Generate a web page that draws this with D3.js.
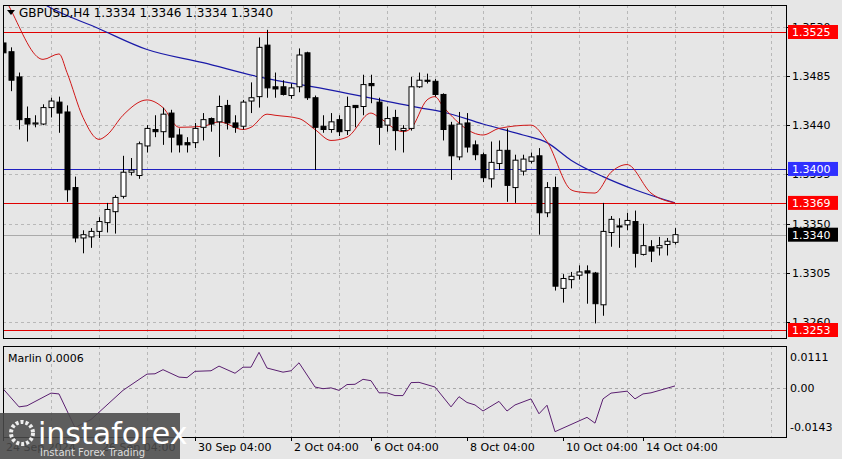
<!DOCTYPE html>
<html><head><meta charset="utf-8">
<script src="https://cdn.jsdelivr.net/npm/d3@7"></script>
<style>body{margin:0;background:#e6e6e6;overflow:hidden}svg{display:block}text{font-family:"DejaVu Sans",sans-serif}</style>
</head><body><svg id="c" width="842" height="459"></svg>
<script>
const opens  =[1.3515,1.3507,1.3484,1.3446,1.3441,1.3441,1.3456,1.3461,1.3452,1.3383,1.3337,1.3338,1.3343,1.3351,1.3361,1.3375,1.3397,1.3394,1.3421,1.3436,1.3434,1.3451,1.3431,1.3424,1.3424,1.3438,1.3446,1.3443,1.3458,1.3442,1.3439,1.3462,1.3466,1.3513,1.3475,1.3475,1.3467,1.3475,1.3506,1.3465,1.3439,1.3436,1.3445,1.3435,1.3458,1.3457,1.3478,1.3461,1.3440,1.3447,1.3435,1.3437,1.3475,1.3481,1.3480,1.3468,1.3440,1.3411,1.3442,1.3422,1.3413,1.3391,1.3405,1.3417,1.3383,1.3398,1.3407,1.3412,1.3360,1.3383,1.3291,1.3299,1.3303,1.3307,1.3305,1.3276,1.3342,1.3348,1.3349,1.3352,1.3322,1.3329,1.3328,1.3331,1.3333];
const highs  =[1.3517,1.3511,1.3488,1.3457,1.3449,1.3459,1.3465,1.3466,1.3458,1.3393,1.3344,1.3346,1.3356,1.3369,1.3376,1.3412,1.3410,1.3425,1.3440,1.3449,1.3456,1.3454,1.3437,1.3429,1.3442,1.3451,1.3447,1.3467,1.3463,1.3449,1.3463,1.3479,1.3520,1.3527,1.3488,1.3481,1.3478,1.3510,1.3507,1.3467,1.3449,1.3451,1.3449,1.3466,1.3458,1.3486,1.3486,1.3465,1.3457,1.3454,1.3440,1.3484,1.3488,1.3487,1.3482,1.3469,1.3443,1.3452,1.3451,1.3426,1.3415,1.3425,1.3426,1.3437,1.3413,1.3413,1.3415,1.3419,1.3388,1.3393,1.3304,1.3306,1.3312,1.3312,1.3306,1.3369,1.3357,1.3355,1.3360,1.3362,1.3350,1.3335,1.3338,1.3337,1.3346];
const lows   =[1.3503,1.3471,1.3436,1.3425,1.3438,1.3440,1.3447,1.3433,1.3370,1.3333,1.3323,1.3328,1.3337,1.3342,1.3341,1.3373,1.3394,1.3391,1.3415,1.3429,1.3422,1.3415,1.3415,1.3415,1.3419,1.3426,1.3434,1.3411,1.3436,1.3433,1.3436,1.3451,1.3456,1.3465,1.3465,1.3467,1.3464,1.3470,1.3463,1.3399,1.3433,1.3433,1.3430,1.3431,1.3438,1.3449,1.3460,1.3422,1.3434,1.3417,1.3415,1.3435,1.3474,1.3478,1.3466,1.3426,1.3390,1.3408,1.3415,1.3408,1.3388,1.3383,1.3399,1.3370,1.3369,1.3394,1.3405,1.3340,1.3356,1.3289,1.3278,1.3291,1.3299,1.3277,1.3259,1.3266,1.3329,1.3328,1.3344,1.3310,1.3321,1.3315,1.3321,1.3321,1.3331];
const closes =[1.3506,1.3481,1.3445,1.3441,1.3442,1.3456,1.3462,1.3451,1.3381,1.3337,1.3340,1.3343,1.3352,1.3363,1.3374,1.3397,1.3399,1.3423,1.3437,1.3434,1.3450,1.3429,1.3422,1.3422,1.3437,1.3445,1.3441,1.3457,1.3442,1.3438,1.3461,1.3465,1.3511,1.3474,1.3473,1.3468,1.3474,1.3504,1.3465,1.3438,1.3436,1.3443,1.3434,1.3457,1.3456,1.3477,1.3476,1.3438,1.3446,1.3435,1.3437,1.3475,1.3481,1.3480,1.3468,1.3436,1.3412,1.3441,1.3420,1.3413,1.3392,1.3406,1.3417,1.3385,1.3408,1.3409,1.3411,1.3360,1.3383,1.3293,1.3300,1.3302,1.3306,1.3305,1.3277,1.3343,1.3354,1.3347,1.3353,1.3323,1.3330,1.3325,1.3330,1.3334,1.3340];
const blueIdx=[-4,0,5,12,18,25,32,41,52,55,60,65,68,71,75,79,84];
const blueVal=[1.3600,1.3578,1.3551,1.3528,1.3509,1.3497,1.3484,1.3472,1.3456,1.3452,1.3441,1.3431,1.3424,1.3408,1.3393,1.3381,1.3369];
const redIdx=[0,1,5,7,8,10,12,13,15,18,20,22,25,27,30,31,33,34,37,39,41,43,46,47,50,51,53,54,55,60,62,66,68,71,72,74,76,78,81,84];
const redVal=[1.3560,1.3545,1.3500,1.3505,1.3488,1.3447,1.3427,1.3431,1.3449,1.3463,1.3456,1.3438,1.3439,1.3443,1.3436,1.3438,1.3450,1.3449,1.3446,1.3436,1.3426,1.3429,1.3451,1.3447,1.3434,1.3437,1.3463,1.3466,1.3457,1.3431,1.3437,1.3440,1.3425,1.3381,1.3379,1.3378,1.3397,1.3404,1.3378,1.3369];
const marlinIdx=[0,2,3,6,7,9,11,15,18,19,20,22,23,24,26,27,29,30,31,32,33,35,36,37,39,40,41,42,43,44,45,46,47,48,49,50,51,52,54,56,57,58,59,60,62,63,64,66,67,68,69,73,74,75,76,78,79,80,81,84];
const marlinVal=[-0.0004,-0.0070,-0.0066,-0.0020,-0.0023,-0.0145,-0.0116,-0.0010,0.0049,0.0050,0.0065,0.0038,0.0036,0.0059,0.0061,0.0078,0.0052,0.0074,0.0074,0.0128,0.0071,0.0056,0.0061,0.0090,0.0002,-0.0004,-0.0001,-0.0010,0.0011,0.0012,0.0030,0.0025,-0.0019,-0.0019,-0.0029,-0.0029,0.0018,0.0019,0.0002,-0.0070,-0.0033,-0.0054,-0.0063,-0.0085,-0.0050,-0.0085,-0.0063,-0.0041,-0.0095,-0.0064,-0.0160,-0.0108,-0.0129,-0.0041,-0.0020,-0.0013,-0.0041,-0.0023,-0.0019,0.0006];
const priceTicks=[1.3530,1.3485,1.3440,1.3395,1.3350,1.3305,1.3260];
const levels=[{v:1.3525,c:"#e00000",bg:"#ff0000"},{v:1.3400,c:"#2020c0",bg:"#3030ff"},{v:1.3369,c:"#e00000",bg:"#ff0000"},{v:1.3253,c:"#e00000",bg:"#ff0000"}];
const marlinTicks=[0.0111,0.0,-0.0143];
const dateIdx=[0,12,24,36,46,58,70,80];
const dateLabels=["24 Sep 2024","26 Sep 04:00","30 Sep 04:00","2 Oct 04:00","6 Oct 04:00","8 Oct 04:00","10 Oct 04:00","14 Oct 04:00"];

const svg=d3.select("#c");
const L=3,R=786,T=5,B=338,IT=346,IB=437;
const x=d3.scaleLinear().domain([0,1]).range([3,11]);
const y=d3.scaleLinear().domain([1.3525,1.3253]).range([32,330]);
const yi=d3.scaleLinear().domain([0.0111,-0.0143]).range([357,427]);
svg.append("defs").html(`<clipPath id="cm"><rect x="${L}" y="${T}" width="${R-L}" height="${B-T}"/></clipPath><clipPath id="ci"><rect x="${L}" y="${IT}" width="${R-L}" height="${IB-IT}"/></clipPath>`);
const g=svg.append("g").attr("clip-path","url(#cm)");
const gi=svg.append("g").attr("clip-path","url(#ci)");
const vg=d3.range(6,100,6);
[g,gi].forEach((gg,k)=>{
  gg.selectAll(null).data(vg).join("line").attr("x1",d=>x(d)+0.5).attr("x2",d=>x(d)+0.5)
   .attr("y1",k?IT:T).attr("y2",k?IB:B).attr("stroke","#b8b8b8").attr("stroke-dasharray","3,3");
});
g.selectAll(null).data(priceTicks).join("line").attr("x1",L).attr("x2",R).attr("y1",d=>Math.round(y(d))+0.5).attr("y2",d=>Math.round(y(d))+0.5).attr("stroke","#b8b8b8").attr("stroke-dasharray","3,3");
gi.append("line").attr("x1",L).attr("x2",R).attr("y1",Math.round(yi(0))+0.5).attr("y2",Math.round(yi(0))+0.5).attr("stroke","#a8a8a8").attr("stroke-dasharray","3,3");
g.append("line").attr("x1",L).attr("x2",R).attr("y1",Math.round(y(1.3340))+0.5).attr("y2",Math.round(y(1.3340))+0.5).attr("stroke","#aaaaaa");
g.selectAll(null).data(levels).join("line").attr("x1",L).attr("x2",R).attr("y1",d=>Math.round(y(d.v))+0.5).attr("y2",d=>Math.round(y(d.v))+0.5).attr("stroke",d=>d.c);
const cl=d3.line().curve(d3.curveMonotoneX).x(d=>x(d[0])).y(d=>y(d[1]));
g.append("path").attr("d",cl(blueIdx.map((d,i)=>[d,blueVal[i]]))).attr("fill","none").attr("stroke","#1a1aa8").attr("stroke-width",1.2);
g.append("path").attr("d",cl(redIdx.map((d,i)=>[d,redVal[i]]))).attr("fill","none").attr("stroke","#d01818").attr("stroke-width",1);
const idx=d3.range(opens.length);
g.selectAll(null).data(idx).join("line").attr("x1",i=>Math.round(x(i))+0.5).attr("x2",i=>Math.round(x(i))+0.5).attr("y1",i=>y(highs[i])).attr("y2",i=>y(lows[i])).attr("stroke","#000");
g.selectAll(null).data(idx).join("rect").attr("x",i=>Math.round(x(i))-2).attr("width",5)
 .attr("y",i=>y(Math.max(opens[i],closes[i]))).attr("height",i=>Math.max(1,Math.abs(y(opens[i])-y(closes[i]))))
 .attr("fill",i=>closes[i]>=opens[i]?"#fff":"#000").attr("stroke","#000");
gi.append("path").attr("d",d3.line().x(d=>x(d[0])).y(d=>yi(d[1]))(marlinIdx.map((d,i)=>[d,marlinVal[i]]))).attr("fill","none").attr("stroke","#5a1f70").attr("stroke-width",1);
svg.append("rect").attr("x",L+0.5).attr("y",T+0.5).attr("width",R-L).attr("height",B-T).attr("fill","none").attr("stroke","#000");
svg.append("rect").attr("x",L+0.5).attr("y",IT+0.5).attr("width",R-L).attr("height",IB-IT).attr("fill","none").attr("stroke","#000");
svg.selectAll(null).data(priceTicks).join("text").attr("x",792).attr("y",d=>y(d)+4).attr("font-size",11).attr("fill","#000").text(d=>d.toFixed(4));
svg.selectAll(null).data(priceTicks).join("line").attr("x1",R).attr("x2",R+4).attr("y1",d=>Math.round(y(d))+0.5).attr("y2",d=>Math.round(y(d))+0.5).attr("stroke","#000");
const tags=levels.concat([{v:1.3340,bg:"#000"}]);
svg.selectAll(null).data(tags).join("rect").attr("x",788).attr("y",d=>y(d.v)-7).attr("width",50).attr("height",14).attr("fill",d=>d.bg);
svg.selectAll(null).data(tags).join("text").attr("x",792).attr("y",d=>y(d.v)+4).attr("font-size",11).attr("fill","#fff").text(d=>d.v.toFixed(4));
svg.selectAll(null).data(marlinTicks).join("text").attr("x",790).attr("y",d=>yi(d)+4).attr("font-size",11).text(d=>d===0?"0.00":d.toFixed(4));
svg.selectAll(null).data(dateIdx).join("line").attr("x1",d=>Math.round(x(d))+0.5).attr("x2",d=>Math.round(x(d))+0.5).attr("y1",IB).attr("y2",IB+4).attr("stroke","#000");
svg.selectAll(null).data(dateIdx).join("text").attr("x",d=>x(d)+3).attr("y",451).attr("font-size",11).text((d,i)=>dateLabels[i]);
svg.append("path").attr("d","M7,10 L15,10 L11,15 Z").attr("fill","#000");
svg.append("text").attr("x",19).attr("y",17).attr("font-size",12).text("GBPUSD,H4  1.3334 1.3346 1.3334 1.3340");
svg.append("text").attr("x",8).attr("y",362).attr("font-size",11).text("Marlin 0.0006");
const lg=svg.append("g");
lg.append("rect").attr("x",0).attr("y",413).attr("width",180).attr("height",46).attr("fill","#4a4a4a").attr("opacity",0.88);
lg.append("circle").attr("cx",22).attr("cy",433).attr("r",11).attr("fill","none").attr("stroke","#eee").attr("stroke-width",4).attr("stroke-dasharray","3,2");
lg.append("text").attr("x",38).attr("y",444).attr("font-size",30).attr("fill","#fff").attr("font-family","Lato, sans-serif").text("instaforex");
lg.append("text").attr("x",40).attr("y",456).attr("font-size",10).attr("fill","#ddd").text("Instant Forex Trading");
</script></body></html>
